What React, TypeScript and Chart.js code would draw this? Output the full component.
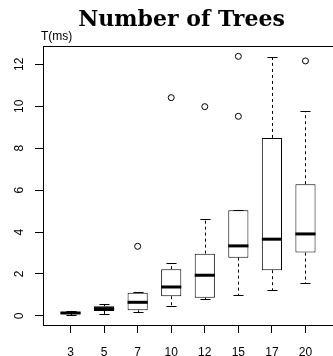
import React, { useEffect, useRef } from 'react';
import { Chart, registerables } from 'chart.js';

Chart.register(...registerables);

// ---- data ----
const categories = ['3', '5', '7', '10', '12', '15', '17', '20'];
const lowerWhisker = [0.06, 0.08, 0.18, 0.46, 0.82, 1.01, 1.25, 1.56];
const lowerQuartile = [0.1, 0.24, 0.27, 0.94, 0.87, 2.78, 2.18, 3.02];
const medians = [0.14, 0.35, 0.65, 1.38, 1.94, 3.34, 3.66, 3.91];
const upperQuartile = [0.18, 0.46, 1.1, 2.23, 2.97, 5.04, 8.49, 6.28];
const upperWhisker = [0.24, 0.59, 1.16, 2.53, 4.64, 5.04, 12.35, 9.79];
const outlierCategories = ['7', '10', '12', '15', '15', '20'];
const outlierValues = [3.32, 10.41, 9.98, 12.38, 9.52, 12.16];
const yTickValues = [0, 2, 4, 6, 8, 10, 12];
const titleText = 'Number of Trees';
const yAxisLabel = 'T(ms)';

const allValues = [...lowerWhisker, ...upperWhisker, ...outlierValues];
const dataMin = Math.min(...allValues);
const dataMax = Math.max(...allValues);
const yPad = (dataMax - dataMin) * 0.04;
const xPad = categories.length * 0.04;

const LABEL_FONT = '12px "Liberation Sans", Arial, sans-serif';

const boxPlugin = {
  id: 'boxExtras',
  afterDatasetsDraw(chart: any) {
    const ctx = chart.ctx;
    const y = chart.scales.y;
    const meta = chart.getDatasetMeta(0);
    const line = (x1: number, y1: number, x2: number, y2: number) => {
      ctx.beginPath();
      ctx.moveTo(x1, y1);
      ctx.lineTo(x2, y2);
      ctx.stroke();
    };
    ctx.save();
    ctx.strokeStyle = '#000';
    categories.forEach((_, i) => {
      const bar = meta.data[i];
      const cx = Math.round(bar.x) + 0.5;
      const w = bar.width;
      const yq1 = y.getPixelForValue(lowerQuartile[i]);
      const yq3 = y.getPixelForValue(upperQuartile[i]);
      const ylo = Math.round(y.getPixelForValue(lowerWhisker[i])) + 0.5;
      const yhi = Math.round(y.getPixelForValue(upperWhisker[i])) + 0.5;
      const ym = y.getPixelForValue(medians[i]);
      ctx.lineWidth = 1;
      ctx.setLineDash([3, 3]);
      if (yhi < yq3) line(cx, yq3, cx, yhi);
      if (ylo > yq1) line(cx, yq1, cx, ylo);
      ctx.setLineDash([]);
      line(cx - w / 4, yhi, cx + w / 4, yhi);
      line(cx - w / 4, ylo, cx + w / 4, ylo);
      ctx.lineWidth = 3;
      line(bar.x - w / 2, ym, bar.x + w / 2, ym);
    });
    ctx.restore();
  },
  afterDraw(chart: any) {
    const ctx = chart.ctx;
    const area = chart.chartArea;
    const y = chart.scales.y;
    ctx.save();
    // frame
    ctx.strokeStyle = '#000';
    ctx.lineWidth = 1;
    ctx.strokeRect(Math.round(area.left) + 0.5, Math.round(area.top) + 0.5,
      area.right - area.left, Math.round(area.bottom) - Math.round(area.top));
    // title
    ctx.fillStyle = '#000';
    ctx.font = 'bold 22px "DejaVu Serif", serif';
    ctx.textAlign = 'center';
    ctx.textBaseline = 'alphabetic';
    ctx.fillText(titleText, 181.5, 26);
    // axis label
    ctx.font = LABEL_FONT;
    ctx.textAlign = 'left';
    ctx.fillText(yAxisLabel, 41, 40);
    // rotated y tick labels
    yTickValues.forEach((v) => {
      const py = y.getPixelForValue(v);
      ctx.save();
      ctx.translate(23, py);
      ctx.rotate(-Math.PI / 2);
      ctx.textAlign = 'center';
      ctx.textBaseline = 'alphabetic';
      ctx.fillText(String(v), 0, 0);
      ctx.restore();
    });
    ctx.restore();
  },
};

export default function App() {
  const ref = useRef<HTMLCanvasElement>(null);
  useEffect(() => {
    const chart = new Chart(ref.current as HTMLCanvasElement, {
      type: 'bar',
      data: {
        datasets: [
          {
            type: 'bar',
            data: categories.map((_, i) => ({ x: i + 1, y: [lowerQuartile[i], upperQuartile[i]] })) as any,
            backgroundColor: '#fff',
            borderColor: '#000',
            borderWidth: 1,
            borderSkipped: false,
            categoryPercentage: 1,
            barPercentage: 0.6,
          },
          {
            type: 'scatter',
            data: outlierCategories.map((c, i) => ({ x: categories.indexOf(c) + 1, y: outlierValues[i] })),
            pointStyle: 'circle',
            pointRadius: 3,
            borderColor: '#000',
            backgroundColor: 'rgba(0,0,0,0)',
            borderWidth: 1,
          },
        ] as any,
      },
      options: {
        responsive: false,
        animation: false,
        devicePixelRatio: 1,
        layout: { autoPadding: false, padding: { top: 46, left: 0, right: 0, bottom: 0 } },
        plugins: { legend: { display: false }, tooltip: { enabled: false }, title: { display: false } },
        scales: {
          x: {
            type: 'linear',
            offset: false,
            min: 1 - 0.5 - xPad,
            max: categories.length + 0.5 + xPad,
            afterBuildTicks: (s: any) => {
              s.ticks = categories.map((_, i) => ({ value: i + 1 }));
            },
            afterFit: (s: any) => {
              s.height = 31;
              s.paddingLeft = 0;
              s.paddingRight = 0;
            },
            ticks: {
              autoSkip: false,
              maxRotation: 0,
              minRotation: 0,
              padding: 12,
              color: '#000',
              font: { family: '"Liberation Sans", Arial, sans-serif', size: 12 },
              callback: (_v: any, idx: number) => categories[idx],
            },
            grid: { offset: false, drawOnChartArea: false, drawTicks: true, tickLength: 8, color: '#000', lineWidth: 1 },
            border: { display: false },
          },
          y: {
            type: 'linear',
            beginAtZero: false,
            min: dataMin - yPad,
            max: dataMax + yPad,
            afterBuildTicks: (s: any) => {
              s.ticks = yTickValues.map((v) => ({ value: v }));
            },
            afterFit: (s: any) => {
              s.width = 43;
              s.paddingTop = 0;
              s.paddingBottom = 0;
            },
            ticks: { display: false },
            grid: { drawOnChartArea: false, drawTicks: true, tickLength: 8, color: '#000', lineWidth: 1 },
            border: { display: false },
          },
        },
      } as any,
      plugins: [boxPlugin],
    });
    return () => chart.destroy();
  }, []);
  return (
    <div style={{ position: 'absolute', left: 0, top: 0, width: 333, height: 356, background: '#fff' }}>
      <canvas ref={ref} width={333} height={356} style={{ display: 'block', width: 333, height: 356 }} />
    </div>
  );
}
